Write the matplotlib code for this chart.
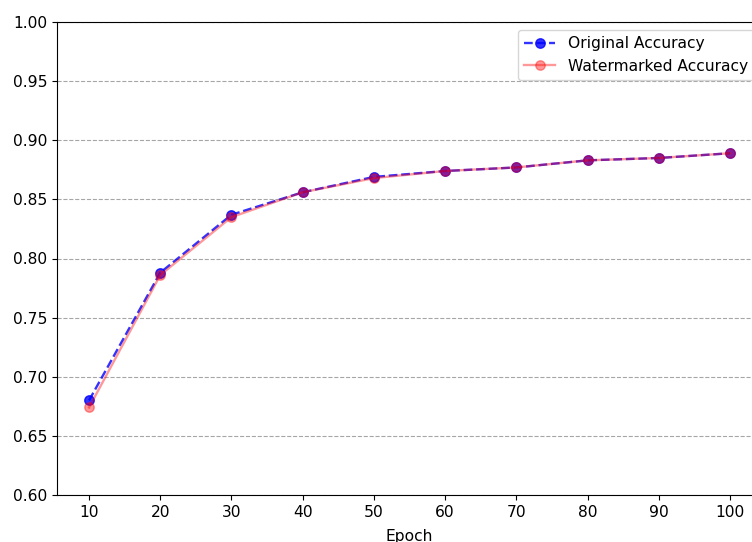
import matplotlib
matplotlib.use("Agg")
import matplotlib.pyplot as plt

epochs = [10, 20, 30, 40, 50, 60, 70, 80, 90, 100]
original_acc = [0.680, 0.788, 0.837, 0.856, 0.869, 0.874, 0.877, 0.883, 0.885, 0.889]
watermarked_acc = [0.674, 0.786, 0.835, 0.856, 0.868, 0.874, 0.877, 0.883, 0.885, 0.889]

plt.rcParams["font.size"] = 11.2

fig = plt.figure(figsize=[7.52, 5.42], dpi=100)
# axes run past the right edge, as in the cropped reference
ax = fig.add_axes([57/752, 1 - 495/542, (762-57)/752, (495-22)/542])

ax.plot(epochs, original_acc, "--o", color="blue", alpha=0.8, ms=6.8, lw=1.7,
        label="Original Accuracy")
ax.plot(epochs, watermarked_acc, "-o", color="red", alpha=0.4, ms=6.8, lw=1.7,
        label="Watermarked Accuracy")

ax.set_ylim(0.6, 1.0)
ax.set_xticks(epochs)
ax.set_xlabel("Epoch", labelpad=7)
ax.grid(axis="y", linestyle="--", color="gray", alpha=0.7)
ax.legend(loc="upper right")

fig.savefig("out.png", dpi=100)
